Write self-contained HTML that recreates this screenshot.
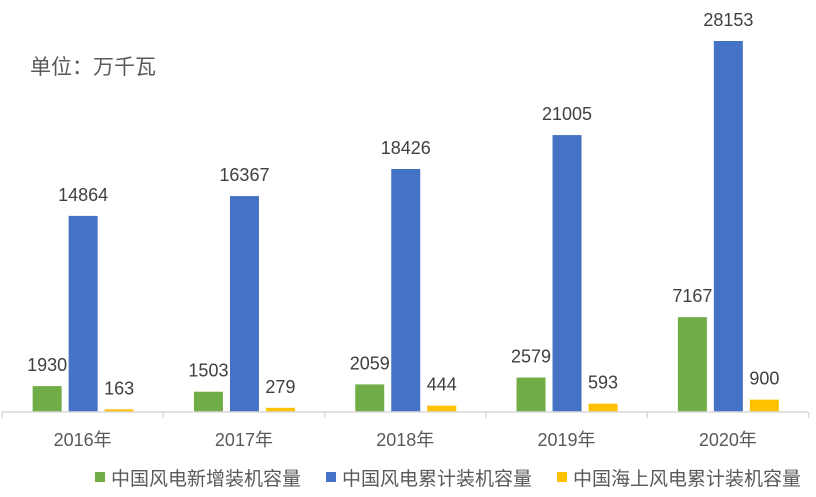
<!DOCTYPE html>
<html><head><meta charset="utf-8"><style>
body{margin:0;background:#fff;}
svg{display:block;font-family:"Liberation Sans","Noto Sans CJK SC",sans-serif;}
</style></head><body>
<svg id="c" width="816" height="497">
<text x="30" y="74" font-size="21" fill="#595959">单位：万千瓦</text>
<g id="bars"></g>
<line x1="2" y1="412" x2="808" y2="412" stroke="#d9d9d9" stroke-width="1.5"/>
<g id="ticks"></g>
<g font-size="19" fill="#595959">
<rect x="95" y="472" width="10" height="10" fill="#70ad47"/>
<text x="111" y="485">中国风电新增装机容量</text>
<rect x="326" y="472" width="10" height="10" fill="#4472c4"/>
<text x="342" y="485">中国风电累计装机容量</text>
<rect x="557" y="472" width="10" height="10" fill="#ffc000"/>
<text x="573" y="485">中国海上风电累计装机容量</text>
</g>
</svg>
<script>
const categories=["2016年","2017年","2018年","2019年","2020年"];
const newInstalled=[1930,1503,2059,2579,7167];
const cumulative=[14864,16367,18426,21005,28153];
const offshore=[163,279,444,593,900];
const NS="http://www.w3.org/2000/svg";
const x0=2,step=161.3,base=411.5,yTop=41,maxV=28153;
const yScale=v=>base-v*(base-yTop)/maxV;
const barsG=document.getElementById('bars'),ticksG=document.getElementById('ticks');
const series=[[newInstalled,"#70ad47","new"],[cumulative,"#4472c4","cumulative"],[offshore,"#ffc000","offshore"]];
function mk(t,a,p){const e=document.createElementNS(NS,t);for(const k in a)e.setAttribute(k,a[k]);p.appendChild(e);return e;}
for(let i=0;i<=categories.length;i++){
 const t=mk('line',{x1:x0+i*step,x2:x0+i*step,y1:412,y2:418,stroke:'#d9d9d9','stroke-width':1.5},ticksG);
 
 
}
categories.forEach((c,i)=>{
 const cx=x0+step*(i+0.5);
 const lb=mk('text',{x:cx,y:446,'text-anchor':'middle','font-size':18,fill:'#595959'},ticksG);
 lb.textContent=c;
 
 
 series.forEach((s,j)=>{
  const v=s[0][i],bx=cx-50+j*36,w=29;
  const r=mk('rect',{x:bx,y:yScale(v),width:w,height:base-yScale(v),fill:s[1]},barsG);
  
  
  const t=mk('text',{x:bx+w/2,y:yScale(v)-15,'text-anchor':'middle','font-size':18,fill:'#404040'},barsG);
  t.textContent=v;
  
  
 });
});
</script>
</body></html>
